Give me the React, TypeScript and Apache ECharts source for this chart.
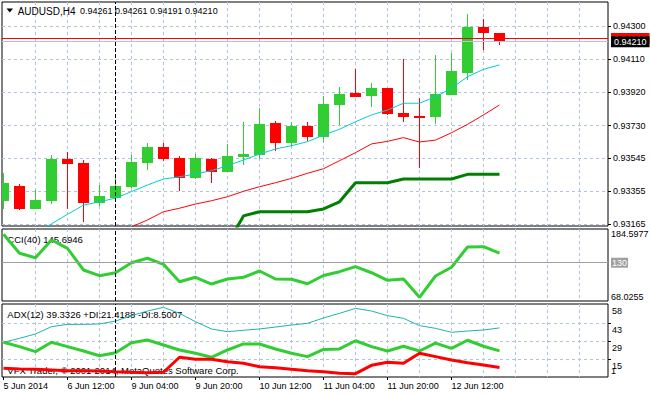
import React, { useEffect, useRef } from "react";
import * as echarts from "echarts";

const FONT = '"Liberation Sans", Arial, sans-serif';

// ---------- data ----------
const symbolName = "AUDUSD,H4";
const candleOpen = [0.93300,0.93384,0.93253,0.93298,0.93539,0.93516,0.93289,0.93316,0.93378,0.93516,0.93607,0.93544,0.93430,0.93539,0.93464,0.93550,0.93562,0.93745,0.93630,0.93728,0.93665,0.93848,0.93917,0.93899,0.93945,0.93802,0.93787,0.93779,0.93905,0.94033,0.94296,0.94261];
const candleClose = [0.93400,0.93253,0.93304,0.93539,0.93510,0.93289,0.93327,0.93384,0.93522,0.93607,0.93539,0.93432,0.93544,0.93466,0.93556,0.93567,0.93739,0.93630,0.93728,0.93665,0.93854,0.93911,0.93894,0.93945,0.93796,0.93779,0.93775,0.93911,0.94044,0.94296,0.94262,0.94210];
const candleLow = [0.93251,0.93247,0.93250,0.93281,0.93253,0.93180,0.93270,0.93312,0.93375,0.93476,0.93529,0.93356,0.93424,0.93403,0.93462,0.93506,0.93539,0.93585,0.93607,0.93642,0.93636,0.93733,0.93892,0.93836,0.93793,0.93751,0.93489,0.93739,0.93903,0.93993,0.94164,0.94191];
const candleHigh = [0.93457,0.93397,0.93361,0.93562,0.93579,0.93531,0.93390,0.93430,0.93562,0.93630,0.93630,0.93556,0.93567,0.93542,0.93625,0.93751,0.93831,0.93756,0.93751,0.93751,0.93899,0.93951,0.94056,0.93974,0.93948,0.94111,0.93888,0.94134,0.94144,0.94370,0.94342,0.94261];

const fastMAStart = 2;
const fastMA = [0.93115,0.93168,0.93222,0.93275,0.93294,0.93315,0.93352,0.93390,0.93424,0.93437,0.93453,0.93472,0.93500,0.93533,0.93567,0.93596,0.93615,0.93638,0.93676,0.93709,0.93752,0.93791,0.93819,0.93858,0.93858,0.93895,0.93943,0.94010,0.94052,0.94077];
const slowMAStart = 8;
const slowMA = [0.93150,0.93190,0.93237,0.93257,0.93281,0.93300,0.93323,0.93354,0.93380,0.93403,0.93428,0.93457,0.93483,0.93529,0.93575,0.93625,0.93640,0.93661,0.93636,0.93647,0.93689,0.93737,0.93791,0.93848];
const stopLineStart = 14;
const stopLine = [0.93052,0.93213,0.93237,0.93237,0.93237,0.93237,0.93253,0.93294,0.93403,0.93403,0.93403,0.93424,0.93424,0.93424,0.93424,0.93451,0.93451,0.93451];

const askPrice = 0.94228;
const bidPrice = 0.94210;

const cciValues = [176.0,145.3,138.1,166.8,153.3,118.2,109.0,113.8,130.0,137.2,127.4,99.3,106.4,95.5,103.6,106.4,116.6,103.6,103.2,96.0,109.3,115.5,123.6,113.8,101.5,103.6,74.0,108.5,122.6,155.5,155.9,145.6946];
const cciLevel = 130;
const cciMin = 68.0255;
const cciMax = 184.5977;

const adxMain = [28.1,31.2,34.6,40.3,42.1,42.1,42.4,44.7,48.9,52.5,55.4,50.7,44.2,38.5,36.4,37.5,38.5,40.0,41.6,42.9,47.1,50.7,54.6,52.5,48.9,46.8,41.1,39.0,35.9,36.9,37.7,39.3326];
const plusDI = [28.1,24.7,20.8,28.1,24.7,21.3,17.6,20.0,27.8,29.9,26.0,22.1,19.5,16.4,22.1,26.8,26.8,22.9,19.5,16.9,22.5,22.9,29.3,24.7,21.3,25.0,21.3,27.5,23.4,29.7,25.0,21.4188];
const minusDI = [7.8,7.2,7.0,6.5,5.9,5.9,5.7,5.1,4.7,4.4,4.7,16.4,14.8,14.8,12.9,11.7,9.0,8.3,7.0,5.9,5.1,3.9,3.6,10.1,12.5,11.7,19.5,16.9,14.3,12.2,10.4,8.5007];
const adxMin = 1;
const adxMax = 58;
const adxGridTicks = [15, 29, 43];
const adxLabelTicks = [15, 29, 43, 58];

const priceTicks = [0.93165, 0.93355, 0.93545, 0.93730, 0.93920, 0.94110, 0.94300];
const priceMin = 0.931553;
const priceMax = 0.944374;

const xLabelIndex = [0, 4, 8, 12, 16, 20, 24, 28];
const xLabels = ["5 Jun 2014", "6 Jun 12:00", "9 Jun 04:00", "9 Jun 20:00", "10 Jun 12:00", "11 Jun 04:00", "11 Jun 20:00", "12 Jun 12:00"];
const separatorIndex = 7;
const copyright = "VFX Trader, \u00A9 2001-2014, MetaQuotes Software Corp.";

// ---------- styling ----------
const UP = "#32CD32";
const DOWN = "#FF0000";
const GRIDC = "#B0C4DE";
const X_MIN = (2 - 3.5) / 16;
const X_MAX = (608 - 3.5) / 16;
const gridX: number[] = [];
for (let i = 2; i <= 36; i += 2) gridX.push(i);

export default function App() {
  const ref = useRef<HTMLDivElement>(null);
  useEffect(() => {
    if (!ref.current) return;
    const chart = echarts.init(ref.current, null, { renderer: "svg" });

    const candleData = candleOpen.map((o, i) => [i, o, candleClose[i], candleLow[i], candleHigh[i]]);
    const toXY = (arr: number[], start: number) => arr.map((v, i) => [start + i, v]);
    const idxXY = (arr: number[]) => arr.map((v, i) => [i, v]);

    const lab = { fontSize: 9, fontFamily: FONT, color: "#000" };
    const vline = { xAxis: separatorIndex, lineStyle: { color: "#000", type: [4, 2], width: 1 }, label: { show: false } };

    const gridBase = { left: 2, width: 606, show: true, borderColor: "#000", borderWidth: 1, backgroundColor: "transparent", containLabel: false, outerBoundsMode: "none" };

    const splitXAxis = (gi: number) => ({
      type: "value", gridIndex: gi, min: X_MIN, max: X_MAX, position: "top",
      axisLine: { show: false, onZero: false },
      axisTick: { show: false, customValues: gridX },
      axisLabel: { show: false },
      splitLine: { show: true, lineStyle: { color: GRIDC, type: [3, 3], width: 1 } },
    });

    const lineS = (data: any, xi: number, color: string, width: number, z = 3, extra: any = {}) => ({
      type: "line", xAxisIndex: xi, yAxisIndex: xi === 0 ? 0 : xi === 1 ? 1 : 3,
      data, symbol: "none", silent: true, z,
      lineStyle: { color, width }, ...extra,
    });

    const priceLabel = (v: number, bg: string) => ({
      show: true, position: "end", distance: 3, formatter: v.toFixed(5), color: "#fff",
      backgroundColor: bg, padding: [1, 3, 1, 3], fontSize: 9, fontFamily: FONT,
    });

    const option: any = {
      animation: false,
      backgroundColor: "#fff",
      grid: [
        { ...gridBase, top: 2, height: 224 },
        { ...gridBase, top: 229, height: 72 },
        { ...gridBase, top: 304, height: 73 },
      ],
      xAxis: [
        splitXAxis(0),
        splitXAxis(1),
        splitXAxis(2),
        {
          type: "value", gridIndex: 2, min: X_MIN, max: X_MAX, position: "bottom",
          axisLine: { show: false, onZero: false },
          axisTick: { show: true, length: 3, customValues: xLabelIndex, lineStyle: { color: "#000" } },
          axisLabel: {
            show: true, customValues: xLabelIndex, align: "left", margin: 4, ...lab,
            formatter: (v: number) => xLabels[xLabelIndex.indexOf(Math.round(v))] ?? "",
          },
          splitLine: { show: false },
        },
      ],
      yAxis: [
        {
          type: "value", gridIndex: 0, position: "right", min: priceMin, max: priceMax,
          axisLine: { show: false, onZero: false },
          axisTick: { show: true, length: 3, customValues: priceTicks, lineStyle: { color: "#000" } },
          axisLabel: { customValues: priceTicks, margin: 5, ...lab, formatter: (v: number) => v.toFixed(5) },
          splitLine: { show: true, lineStyle: { color: GRIDC, type: [3, 3], width: 1 } },
        },
        {
          type: "value", gridIndex: 1, position: "right", min: cciMin, max: cciMax,
          axisLine: { show: false, onZero: false },
          axisTick: { show: false, customValues: [cciMax] },
          axisLabel: { customValues: [cciMax], margin: 3, verticalAlign: "top", ...lab, formatter: (v: number) => v.toFixed(4) },
          splitLine: { show: false },
        },
        {
          type: "value", gridIndex: 1, position: "right", min: cciMin, max: cciMax,
          axisLine: { show: false, onZero: false },
          axisTick: { show: false, customValues: [cciMin] },
          axisLabel: { customValues: [cciMin], margin: 3, verticalAlign: "bottom", ...lab, formatter: (v: number) => v.toFixed(4) },
          splitLine: { show: false },
        },
        {
          type: "value", gridIndex: 2, position: "right", min: adxMin, max: adxMax,
          axisLine: { show: false, onZero: false },
          axisTick: { show: true, length: 3, customValues: adxGridTicks, lineStyle: { color: "#000" } },
          axisLabel: { customValues: adxLabelTicks, margin: 4, verticalAlign: "top", padding: [2, 0, 0, 0], ...lab, formatter: (v: number) => String(v) },
          splitLine: { show: true, lineStyle: { color: GRIDC, type: [3, 3], width: 1 } },
        },
        {
          type: "value", gridIndex: 2, position: "right", min: adxMin, max: adxMax,
          axisLine: { show: false, onZero: false },
          axisTick: { show: false, customValues: [adxMin] },
          axisLabel: { customValues: [adxMin], margin: 3, verticalAlign: "bottom", padding: [0, 0, 2, 0], ...lab, formatter: (v: number) => String(v) },
          splitLine: { show: false },
        },
      ],
      series: [
        {
          type: "custom", xAxisIndex: 0, yAxisIndex: 0, z: 2, silent: true,
          data: candleData, encode: { x: 0, y: [1, 2, 3, 4] },
          renderItem: (params: any, api: any) => {
            const x = api.value(0);
            const o = api.value(1), c = api.value(2), l = api.value(3), h = api.value(4);
            const cs = params.coordSys;
            const clip = { x: cs.x, y: cs.y, width: cs.width, height: cs.height };
            const pO = api.coord([x, o]);
            const pC = api.coord([x, c]);
            const pL = api.coord([x, l]);
            const pH = api.coord([x, h]);
            const color = c >= o ? UP : DOWN;
            const cx = pO[0];
            const y1 = Math.round(Math.min(pO[1], pC[1]));
            const y2 = Math.round(Math.max(pO[1], pC[1]));
            const body = echarts.graphic.clipRectByRect({ x: cx - 5.5, y: y1, width: 11, height: Math.max(1, y2 - y1) }, clip);
            const wt = Math.round(pH[1]);
            const wb = Math.round(pL[1]);
            const wick = echarts.graphic.clipRectByRect({ x: cx - 0.5, y: wt, width: 1, height: Math.max(1, wb - wt) }, clip);
            const children: any[] = [];
            if (wick) children.push({ type: "rect", shape: wick, style: { fill: color } });
            if (body) children.push({ type: "rect", shape: body, style: { fill: color } });
            return { type: "group", children };
          },
        },
        lineS(toXY(fastMA, fastMAStart), 0, "#00CED1", 1, 3, {
          markLine: {
            silent: true, symbol: ["none", "none"], animation: false, precision: 6,
            data: [
              vline,
              { yAxis: askPrice, lineStyle: { color: "#FF0000", type: "solid", width: 1 }, label: priceLabel(askPrice, "#FF0000") },
              { yAxis: bidPrice, lineStyle: { color: GRIDC, type: "solid", width: 1 }, label: priceLabel(bidPrice, "#000") },
            ],
          },
        }),
        lineS(toXY(slowMA, slowMAStart), 0, "#FF0000", 1),
        lineS(toXY(stopLine, stopLineStart), 0, "#008000", 3),
        lineS(idxXY(cciValues), 1, UP, 3, 3, {
          markLine: {
            silent: true, symbol: ["none", "none"], animation: false, precision: 4,
            data: [
              {
                yAxis: cciLevel, lineStyle: { color: "#A0A0A0", type: "solid", width: 1 },
                label: { show: true, position: "end", distance: 3, formatter: String(cciLevel), color: "#fff", backgroundColor: "#A0A0A0", padding: [1, 1, 0, 1], fontSize: 9, fontFamily: FONT },
              },
              vline,
            ],
          },
        }),
        lineS(idxXY(adxMain), 2, "#20B2AA", 1, 3, {
          markLine: { silent: true, symbol: ["none", "none"], animation: false, data: [vline] },
        }),
        lineS(idxXY(plusDI), 2, UP, 3),
        lineS(idxXY(minusDI), 2, DOWN, 3),
      ],
      graphic: [
        { type: "polygon", z: 1, shape: { points: [[6.5, 8.5], [13, 8.5], [9.75, 12.5]] }, style: { fill: "#000" } },
        { type: "text", z: 1, x: 17.7, y: 11, style: { text: symbolName, fontSize: 10, fontFamily: FONT, fill: "#000", verticalAlign: "middle" } },
        {
          type: "text", z: 1, x: 80, y: 11,
          style: {
            text: [candleOpen[31], candleHigh[31], candleLow[31], candleClose[31]].map((v) => v.toFixed(5)).join(" "),
            fontSize: 9, fontFamily: FONT, fill: "#000", verticalAlign: "middle",
          },
        },
        { type: "text", z: 1, x: 7.3, y: 239, style: { text: `CCI(40) ${cciValues[31].toFixed(4)}`, fontSize: 9.5, fontFamily: FONT, fill: "#000", verticalAlign: "middle" } },
        {
          type: "text", z: 1, x: 7.3, y: 314,
          style: {
            text: `ADX(12) ${adxMain[31].toFixed(4)} +DI:${plusDI[31].toFixed(4)} -DI:${minusDI[31].toFixed(4)}`,
            fontSize: 9.5, fontFamily: FONT, fill: "#000", verticalAlign: "middle",
          },
        },
        { type: "text", z: 1, x: 7.3, y: 370, style: { text: copyright, fontSize: 9.5, fontFamily: FONT, fill: "#000", verticalAlign: "middle" } },
      ],
    };

    chart.setOption(option);
    return () => chart.dispose();
  }, []);

  return (
    <div
      ref={ref}
      style={{ position: "absolute", left: 0, top: 0, width: 651, height: 395, background: "#fff" }}
    />
  );
}
